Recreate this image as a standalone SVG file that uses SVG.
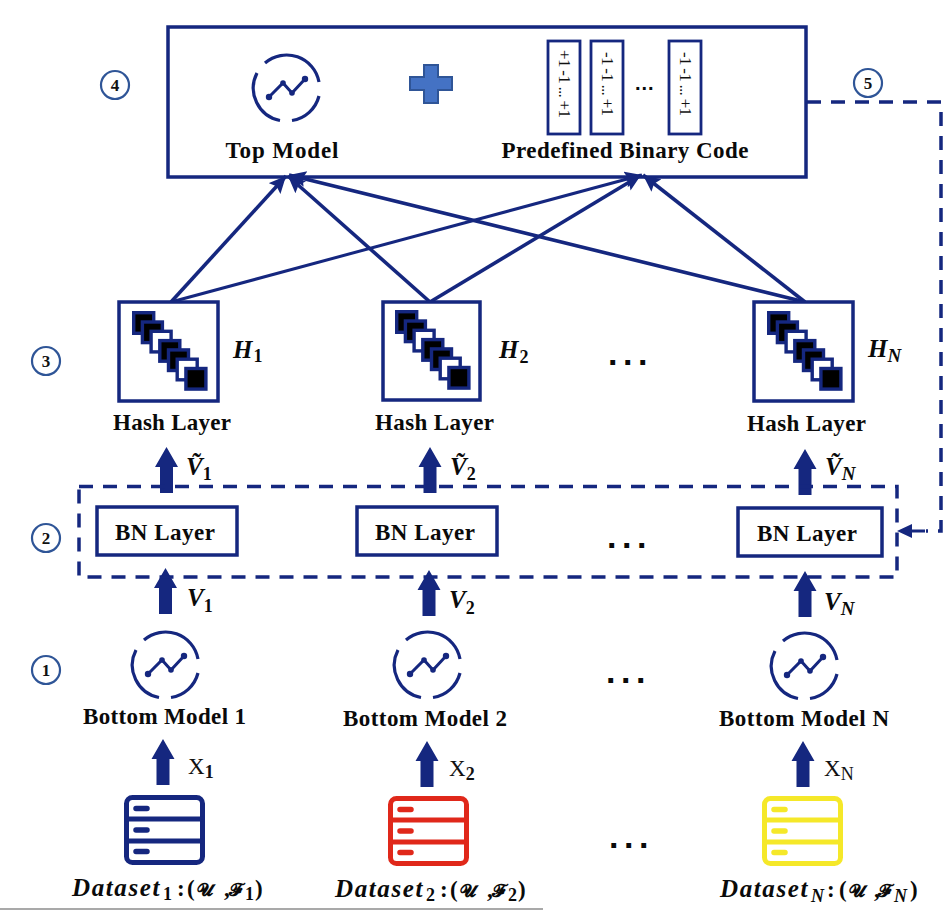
<svg xmlns="http://www.w3.org/2000/svg" width="950" height="910" viewBox="0 0 950 910">
<style>
.box{stroke:#15277f;fill:#fff;stroke-width:3.5}
.bar{stroke:#15277f;fill:#fff;stroke-width:2.8}
.lab{font-family:"Liberation Serif",serif;font-weight:bold;font-size:23px;fill:#0a0a0a;text-anchor:middle}
.num{font-family:"Liberation Serif",serif;font-weight:bold;font-size:17px;fill:#111;text-anchor:middle}
.circ{fill:#fff;stroke:#2f5597;stroke-width:2.2}
.math{font-family:"Liberation Serif",serif;font-weight:bold;font-style:italic;font-size:25px;fill:#0a0a0a}
.sub{font-size:18px;font-style:normal}
.subi{font-size:19px}
.x{font-family:"Liberation Serif",serif;font-size:23px;fill:#111}
.dots{font-family:"Liberation Sans",sans-serif;font-weight:bold;font-size:34px;letter-spacing:5.5px;fill:#0a0a0a}
.code{font-family:"Liberation Serif",serif;font-size:17px;fill:#111;text-anchor:middle}
.dash{stroke:#15277f;fill:none;stroke-width:3.5;stroke-dasharray:14 10}
.link{stroke:#15277f;stroke-width:3.6;fill:none;marker-end:url(#tip)}
.ds{font-family:"Liberation Serif","DejaVu Serif",serif;font-weight:bold;font-style:italic;font-size:25px;fill:#0a0a0a}
.d{letter-spacing:1.6px}
.r{font-style:normal;font-size:23px}
.g{font-style:normal;font-size:18px}
.s{font-size:18px;font-style:normal}
</style>
<defs>
<marker id="tip" markerUnits="userSpaceOnUse" markerWidth="20" markerHeight="18" refX="17" refY="8" orient="auto"><path d="M0 0L17 8L0 16L3 8Z" fill="#15277f"/></marker>
<path id="up" d="M0 0L11.500 20H6.500V46H-6.500V20H-11.500Z" fill="#15277f"/>
<g id="model" fill="none" stroke="#15277f" stroke-width="3.200">
<path d="M-21 -25A33 33 0 0 1 33 -6"/>
<path d="M33 8A33 33 0 0 1 6 32.500"/>
<path d="M-6 32.500A33 33 0 0 1 -29 -15"/>
<path d="M-17 9L-3 -5L6 5L19 -9" stroke-width="3"/>
<circle cx="-17" cy="9" r="3.200" fill="#15277f" stroke="none"/>
<circle cx="-3" cy="-5" r="2.800" fill="#15277f" stroke="none"/>
<circle cx="6" cy="5" r="2.800" fill="#15277f" stroke="none"/>
<circle cx="19" cy="-9" r="3.200" fill="#15277f" stroke="none"/>
</g>
<g id="stack" stroke="#15277f" stroke-width="3.400">
<rect x="1.700" y="1.700" width="20" height="20.600" fill="#000"/>
<rect x="10.400" y="11" width="20" height="20.600" fill="#000"/>
<rect x="19.100" y="20.300" width="20" height="20.600" fill="#fff"/>
<rect x="27.800" y="29.600" width="20" height="20.600" fill="#000"/>
<rect x="36.500" y="38.900" width="20" height="20.600" fill="#000"/>
<rect x="45.200" y="48.200" width="20" height="20.600" fill="#fff"/>
<rect x="53.900" y="57.500" width="20" height="20.600" fill="#000"/>
</g>
<g id="db" fill="none" stroke-width="5">
<rect x="2.500" y="2.500" width="76" height="65" rx="6"/>
<path d="M2 24H79M2 46H79"/>
<path d="M12 13.500H23M12 35H23M12 56.500H23" stroke-width="5.500" stroke-linecap="round"/>
</g>
</defs>
<rect width="950" height="910" fill="#fff"/>
<rect x="0" y="908" width="543" height="2" fill="#a9a9a9"/>

<g id="top-box">
<rect x="168" y="27" width="638" height="150" class="box"/>
<use href="#model" x="286" y="88"/>
<text x="282" y="158" class="lab" textLength="113">Top Model</text>
<path d="M424 65H438V77H452V90H438V103H424V90H410V77H424Z" fill="#4472c4" stroke="#2f5597" stroke-width="2"/>
<rect x="548" y="41" width="32" height="93" class="bar"/>
<rect x="591" y="41" width="32" height="93" class="bar"/>
<rect x="669" y="41" width="32" height="93" class="bar"/>
<text class="code" transform="translate(559 84) rotate(90)" textLength="68">+1 -1 ... +1</text>
<text class="code" transform="translate(602 84) rotate(90)" textLength="64">-1 -1 ... +1</text>
<text class="code" transform="translate(680 84) rotate(90)" textLength="64">-1 -1 ... +1</text>
<text x="635" y="90" class="dots" style="font-size:20px;letter-spacing:1px">...</text>
<text x="625" y="158" class="lab" textLength="247">Predefined Binary Code</text>
</g>

<g id="steps">
<g id="step-4"><circle cx="115" cy="85" r="14" class="circ"/><text x="115" y="91" class="num">4</text></g>
<g id="step-5"><circle cx="868" cy="83" r="14" class="circ"/><text x="868" y="89" class="num">5</text></g>
<g id="step-3"><circle cx="46" cy="361" r="14" class="circ"/><text x="46" y="367" class="num">3</text></g>
<g id="step-2"><circle cx="46" cy="538" r="14" class="circ"/><text x="46" y="544" class="num">2</text></g>
<g id="step-1"><circle cx="46" cy="670" r="14" class="circ"/><text x="46" y="676" class="num">1</text></g>
</g>

<g id="connectors">
<line x1="171" y1="302" x2="286" y2="176" class="link"/>
<line x1="430" y1="302" x2="288" y2="176" class="link"/>
<line x1="805" y1="302" x2="289" y2="175" class="link"/>
<line x1="171" y1="302" x2="642" y2="175" class="link" style="stroke-width:3"/>
<line x1="430" y1="302" x2="641" y2="175" class="link"/>
<line x1="805" y1="302" x2="643" y2="175" class="link"/>
<path d="M807 102H941V531H926" class="dash"/>
<path d="M897 531L912 524V529.500H925V532.500H912V538Z" fill="#15277f"/>
<use href="#up" x="166.500" y="447"/>
<use href="#up" x="430" y="447"/>
<use href="#up" x="805" y="449"/>
<use href="#up" x="165.500" y="568"/>
<use href="#up" x="429" y="570"/>
<use href="#up" x="805" y="571"/>
<use href="#up" x="163" y="739"/>
<use href="#up" x="427" y="741"/>
<use href="#up" x="803" y="741"/>
</g>

<g id="bn-group"><rect x="79" y="486.500" width="818" height="90.500" class="dash"/></g>

<g id="hash-1"><rect x="119" y="302" width="99" height="99" class="box"/><use href="#stack" x="132" y="311"/><text x="172" y="430" class="lab" textLength="118">Hash Layer</text></g>
<g id="hash-2"><rect x="383" y="302" width="97" height="98" class="box"/><use href="#stack" x="395" y="310"/><text x="434.500" y="430" class="lab" textLength="119">Hash Layer</text></g>
<g id="hash-n"><rect x="754" y="302" width="99" height="99" class="box"/><use href="#stack" x="767" y="311"/><text x="806.500" y="431" class="lab" textLength="119">Hash Layer</text></g>

<g id="bn-1"><rect x="97" y="507" width="140" height="48" class="box"/><text x="165" y="540" class="lab" textLength="100">BN Layer</text></g>
<g id="bn-2"><rect x="357" y="507" width="140" height="48" class="box"/><text x="425" y="540" class="lab" textLength="100">BN Layer</text></g>
<g id="bn-n"><rect x="738" y="508" width="144" height="48" class="box"/><text x="807" y="541" class="lab" textLength="100">BN Layer</text></g>

<g id="bottom-1"><use href="#model" x="165" y="665"/><text x="164.500" y="724" class="lab" textLength="163">Bottom Model 1</text></g>
<g id="bottom-2"><use href="#model" x="427" y="665"/><text x="425" y="726" class="lab" textLength="164">Bottom Model 2</text></g>
<g id="bottom-n"><use href="#model" x="804" y="666"/><text x="804" y="726" class="lab" textLength="170">Bottom Model N</text></g>

<g id="dataset-1"><use href="#db" x="124" y="795" stroke="#15277f"/><text x="72" y="896" class="ds"><tspan class="d">Dataset</tspan><tspan class="s" x="163" dy="4">1</tspan><tspan class="r" x="177" dy="-4">:</tspan><tspan class="r" x="187">(</tspan><tspan class="g" x="197">𝓤</tspan><tspan class="r" x="224">,</tspan><tspan class="g" x="229">𝓕</tspan><tspan class="s" x="245" dy="4">1</tspan><tspan class="r" x="255" dy="-4">)</tspan></text></g>
<g id="dataset-2"><use href="#db" x="388" y="796" stroke="#e0281a"/><text x="335" y="897" class="ds"><tspan class="d">Dataset</tspan><tspan class="s" x="426" dy="4">2</tspan><tspan class="r" x="440" dy="-4">:</tspan><tspan class="r" x="450">(</tspan><tspan class="g" x="460">𝓤</tspan><tspan class="r" x="487">,</tspan><tspan class="g" x="492">𝓕</tspan><tspan class="s" x="508" dy="4">2</tspan><tspan class="r" x="518" dy="-4">)</tspan></text></g>
<g id="dataset-n"><use href="#db" x="762" y="796" stroke="#f5e829"/><text x="720" y="897" class="ds"><tspan class="d">Dataset</tspan><tspan font-size="18" x="811" dy="5">N</tspan><tspan class="r" x="827" dy="-5">:</tspan><tspan class="r" x="839">(</tspan><tspan class="g" x="849">𝓤</tspan><tspan class="r" x="874">,</tspan><tspan class="g" x="878">𝓕</tspan><tspan font-size="18" x="894" dy="5">N</tspan><tspan class="r" x="910" dy="-5">)</tspan></text></g>

<g id="labels">
<text x="233" y="358" class="math">H<tspan class="sub" dx="1" dy="4">1</tspan></text>
<text x="499" y="358" class="math">H<tspan class="sub" dx="1" dy="5">2</tspan></text>
<text x="868" y="357" class="math">H<tspan class="subi" dx="0" dy="5">N</tspan></text>
<text x="186" y="475" class="math">Ṽ<tspan class="sub" dx="0" dy="5">1</tspan></text>
<text x="450" y="475" class="math">Ṽ<tspan class="sub" dx="0" dy="5">2</tspan></text>
<text x="825" y="475" class="math">Ṽ<tspan class="subi" dx="0" dy="5">N</tspan></text>
<text x="187" y="606" class="math">V<tspan class="sub" dx="0" dy="6">1</tspan></text>
<text x="449" y="608" class="math">V<tspan class="sub" dx="0" dy="6">2</tspan></text>
<text x="824" y="610" class="math">V<tspan class="subi" dx="0" dy="5">N</tspan></text>
<text x="188" y="774" class="x">X<tspan font-size="18" font-weight="bold" dy="4">1</tspan></text>
<text x="449" y="776" class="x">X<tspan font-size="18" font-weight="bold" dy="4">2</tspan></text>
<text x="824" y="776" class="x">X<tspan font-size="18" dy="4">N</tspan></text>
<text x="608" y="365" class="dots">...</text>
<text x="607" y="548" class="dots">...</text>
<text x="606" y="683" class="dots">...</text>
<text x="609" y="848" class="dots">...</text>
</g>
</svg>
